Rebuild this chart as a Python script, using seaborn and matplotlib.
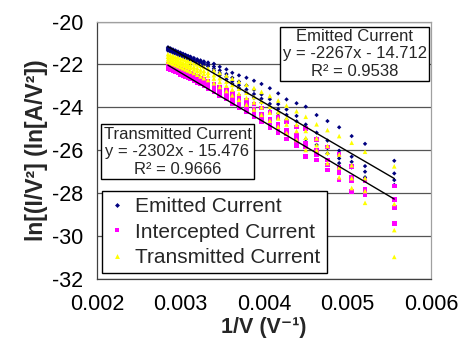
import numpy as np
import pandas as pd
import matplotlib
matplotlib.use("Agg")
import matplotlib.pyplot as plt
from matplotlib.lines import Line2D
import seaborn as sns

# ---- data ----
x_cols = [0.00285, 0.00288, 0.00291, 0.00294, 0.00297, 0.00300, 0.00303, 0.00306,
          0.00309, 0.00312, 0.00316, 0.00320, 0.00324, 0.00328, 0.00333, 0.00340,
          0.00347, 0.00355, 0.00362, 0.00370, 0.00379, 0.00388, 0.00397, 0.00407,
          0.00417, 0.00427, 0.00439, 0.00450, 0.00463, 0.00476, 0.00490, 0.00505,
          0.00521, 0.00556]

emitted_a = [-21.20, -21.25, -21.30, -21.35, -21.40, -21.45, -21.50, -21.55, -21.60, -21.64,
             -21.70, -21.76, -21.81, -21.86, -21.91, -21.97, -22.11, -22.23, -22.39, -22.51,
             -22.62, -22.76, -22.91, -23.11, -23.35, -23.63, -23.81, -23.97, -24.36, -24.64,
             -24.93, -25.34, -25.70, -26.49]
emitted_b = [-21.25, -21.30, -21.35, -21.40, -21.45, -21.50, -21.55, -21.60, -21.65, -21.69,
             -21.75, -21.81, -21.86, -21.92, -21.98, -22.10, -22.28, -22.45, -22.62, -22.80,
             -22.98, -23.18, -23.40, -23.62, -23.85, -24.10, -24.40, -24.80, -25.18, -25.55,
             -26.02, -26.30, -26.74, -27.08]
emitted_c = [-21.30, -21.35, -21.40, -21.45, -21.50, -21.55, -21.60, -21.65, -21.70, -21.74,
             -21.80, -21.86, -21.91, -21.97, -22.03, -22.20, -22.40, -22.58, -22.78, -22.97,
             -23.17, -23.38, -23.60, -23.84, -24.08, -24.35, -24.65, -25.00, -25.45, -25.90,
             -26.38, -26.54, -27.00, -27.39]
emitted_d = [-21.36, -21.41, -21.46, -21.51, -21.56, -21.61, -21.66, -21.71, -21.76, -21.80,
             -21.86, -21.92, -21.97, -22.03, -22.09, -22.30, -22.50, -22.70, -22.90, -23.10,
             -23.32, -23.55, -23.78, -24.02, -24.28, -24.56, -24.88, -25.49, -25.75, -26.15,
             -26.60, -26.80, -27.26, -27.62]

intercepted_a = [-21.98, -22.03, -22.08, -22.13, -22.18, -22.23, -22.28, -22.33, -22.38, -22.43,
                 -22.50, -22.57, -22.64, -22.71, -22.80, -22.93, -23.06, -23.20, -23.35, -23.50,
                 -23.67, -23.85, -24.04, -24.25, -24.46, -24.68, -24.92, -25.00, -25.49, -25.84,
                 -26.20, -26.75, -27.40, -27.67]
intercepted_b = [-22.06, -22.11, -22.16, -22.21, -22.26, -22.31, -22.36, -22.41, -22.46, -22.51,
                 -22.58, -22.66, -22.74, -22.82, -22.91, -23.05, -23.20, -23.36, -23.53, -23.71,
                 -23.90, -24.10, -24.32, -24.55, -24.80, -25.05, -25.32, -25.68, -26.00, -26.45,
                 -26.80, -27.25, -27.80, -28.29]
intercepted_c = [-22.13, -22.18, -22.23, -22.28, -22.33, -22.38, -22.43, -22.48, -22.53, -22.58,
                 -22.66, -22.74, -22.82, -22.90, -23.00, -23.15, -23.31, -23.48, -23.66, -23.85,
                 -24.05, -24.26, -24.49, -24.73, -24.98, -25.25, -25.54, -25.85, -26.22, -26.69,
                 -27.05, -27.40, -27.93, -28.66]
intercepted_d = [-22.20, -22.25, -22.30, -22.35, -22.40, -22.46, -22.51, -22.56, -22.61, -22.66,
                 -22.74, -22.83, -22.92, -23.01, -23.11, -23.27, -23.44, -23.62, -23.81, -24.01,
                 -24.22, -24.45, -24.69, -24.94, -25.20, -25.48, -25.78, -26.30, -26.46, -26.92,
                 -27.39, -27.93, -28.09, -29.41]

transmitted_a = [-21.52, -21.56, -21.60, -21.64, -21.68, -21.72, -21.76, -21.80, -21.84, -21.88,
                 -21.94, -22.00, -22.06, -22.12, -22.18, -22.28, -22.40, -22.52, -22.66, -22.80,
                 -22.95, -23.10, -23.28, -23.47, -23.68, -23.92, -24.18, -24.44, -24.79, -25.06,
                 -25.34, -25.65, -26.07, -26.75]
transmitted_b = [-21.64, -21.68, -21.73, -21.77, -21.82, -21.86, -21.91, -21.95, -22.00, -22.04,
                 -22.11, -22.17, -22.24, -22.30, -22.38, -22.50, -22.64, -22.80, -22.96, -23.13,
                 -23.32, -23.52, -23.74, -23.97, -24.22, -24.50, -24.80, -25.10, -25.45, -25.80,
                 -26.20, -26.70, -27.30, -28.50]
transmitted_c = [-21.76, -21.80, -21.85, -21.89, -21.94, -21.98, -22.03, -22.07, -22.12, -22.16,
                 -22.23, -22.30, -22.37, -22.44, -22.52, -22.66, -22.82, -22.99, -23.17, -23.36,
                 -23.56, -23.77, -24.00, -24.25, -24.52, -24.80, -25.10, -25.42, -25.76, -26.12,
                 -26.80, -27.30, -27.90, -29.72]
transmitted_d = [-21.88, -21.93, -21.98, -22.03, -22.08, -22.13, -22.18, -22.23, -22.28, -22.33,
                 -22.40, -22.48, -22.56, -22.64, -22.73, -22.88, -23.05, -23.24, -23.44, -23.65,
                 -23.87, -24.10, -24.35, -24.62, -24.90, -25.20, -25.52, -25.99, -26.00, -26.60,
                 -27.26, -27.76, -28.45, -30.97]

series_names = ["Emitted Current", "Intercepted Current", "Transmitted Current"]
fit_emitted = (-2267, -14.712, 0.9538)
fit_transmitted = (-2302, -15.476, 0.9666)
y_ticks = [-32, -30, -28, -26, -24, -22, -20]
x_ticks = [0.002, 0.003, 0.004, 0.005, 0.006]

# ---- build long table ----
runs = {
    "Emitted Current": [emitted_a, emitted_b, emitted_c, emitted_d],
    "Intercepted Current": [intercepted_a, intercepted_b, intercepted_c, intercepted_d],
    "Transmitted Current": [transmitted_a, transmitted_b, transmitted_c, transmitted_d],
}
rows = []
for name, rr in runs.items():
    for r in rr:
        for xv, yv in zip(x_cols, r):
            rows.append((name, xv, yv))
df = pd.DataFrame(rows, columns=["series", "x", "y"])

sns.set_style("white")
plt.rcParams["font.family"] = ["Liberation Sans", "DejaVu Sans"]

fig = plt.figure(figsize=(4.6, 3.43), dpi=100)
ax = fig.add_axes([97 / 460, 1 - 279 / 343, (431 - 97) / 460, (279 - 21.5) / 343])

colors = {"Emitted Current": "#000080", "Intercepted Current": "#FF00FF",
          "Transmitted Current": "#FFFF00"}
markers = {"Emitted Current": "D", "Intercepted Current": "s", "Transmitted Current": "^"}
sizes = {"Emitted Current": 5, "Intercepted Current": 11, "Transmitted Current": 11}

for name in series_names:
    sub = df[df["series"] == name]
    sns.scatterplot(data=sub, x="x", y="y", color=colors[name], marker=markers[name],
                    s=sizes[name], edgecolor="none", linewidth=0, ax=ax, legend=False, zorder=3)

# trend lines
xmin, xmax = df["x"].min(), df["x"].max()
for m, b, _ in (fit_emitted, fit_transmitted):
    tl = pd.DataFrame({"x": [xmin, xmax], "y": [m * xmin + b, m * xmax + b]})
    sns.lineplot(data=tl, x="x", y="y", color="black", linewidth=1.0, ax=ax, zorder=4)

ax.set_xlim(0.002, 0.006)
ax.set_ylim(-32, -20)
ax.set_xticks(x_ticks)
ax.set_xticklabels([f"{v:.3f}" for v in x_ticks])
ax.set_yticks(y_ticks)
ax.set_yticklabels([f"{v:d}" for v in y_ticks])
ax.tick_params(axis="both", labelsize=15.5, colors="black")
ax.tick_params(axis="y", direction="inout", length=10, width=0.8, color="#404040", pad=5)
ax.tick_params(axis="x", direction="out", length=5, width=0.8, color="#404040", pad=6)
ax.yaxis.grid(True, color="#555555", linewidth=0.9)
ax.xaxis.grid(False)
ax.set_axisbelow(True)
for s in ("left", "bottom"):
    ax.spines[s].set_color("#404040")
    ax.spines[s].set_linewidth(0.9)
for s in ("top", "right"):
    ax.spines[s].set_color("#a0a0a0")
    ax.spines[s].set_linewidth(0.9)

ax.set_xlabel("1/V (V\u207b\u00b9)", fontsize=15.5, fontweight="bold", labelpad=1)
ax.set_ylabel("ln[(I/V\u00b2] (ln[A/V\u00b2])", fontsize=16.5, fontweight="bold", labelpad=3)

box = dict(boxstyle="square,pad=0.15", fc="white", ec="black", lw=1.0)
m, b, r2 = fit_emitted
ax.text(0.772, 0.874, f"Emitted Current\ny = {m}x - {abs(b):.3f}\nR\u00b2 = {r2:.4f}",
        transform=ax.transAxes, ha="center", va="center", multialignment="center",
        fontsize=12, linespacing=1.2, bbox=box, zorder=6)
m, b, r2 = fit_transmitted
ax.text(0.241, 0.494, f"Transmitted Current\ny = {m}x - {abs(b):.3f}\nR\u00b2 = {r2:.4f}",
        transform=ax.transAxes, ha="center", va="center", multialignment="center",
        fontsize=12, linespacing=1.2, bbox=box, zorder=6)

handles = [Line2D([], [], linestyle="none", marker=markers[n], color=colors[n],
                  markersize={"Emitted Current": 2.5, "Intercepted Current": 3.5,
                              "Transmitted Current": 3.5}[n], markeredgewidth=0)
           for n in series_names]
leg = ax.legend(handles, series_names, loc="lower left", bbox_to_anchor=(0.015, 0.023),
                fontsize=15, frameon=True, fancybox=False, edgecolor="black",
                framealpha=1, handlelength=0.8, handletextpad=0.5, borderpad=0.3,
                labelspacing=0.3, borderaxespad=0)
leg.get_frame().set_linewidth(1.0)
leg.set_zorder(7)

fig.savefig("out.png", dpi=100)
